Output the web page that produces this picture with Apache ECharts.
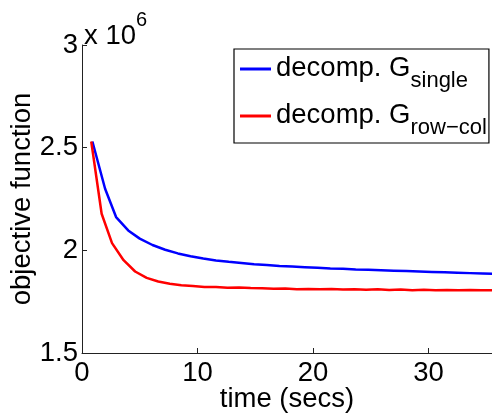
<!DOCTYPE html>
<html>
<head>
<meta charset="utf-8">
<script src="https://cdn.jsdelivr.net/npm/echarts@6/dist/echarts.min.js"></script>
<style>html,body{margin:0;padding:0;background:#fff}#c{width:492px;height:416px}</style>
</head>
<body>
<div id="c"></div>
<script>
// values in units of 10^6
const singleTime = [0.9,2.0,2.95,4.0,5.0,6.1,7.2,8.3,9.4,10.5,11.6,12.7,13.8,14.9,16.0,17.1,18.2,19.3,20.4,21.5,22.6,23.7,24.8,25.9,27.0,28.1,29.2,30.3,31.4,32.5,33.6,34.7,35.8];
const singleVal = [2.53,2.30,2.162,2.097,2.057,2.026,2.003,1.985,1.971,1.960,1.951,1.944,1.938,1.932,1.928,1.924,1.921,1.918,1.915,1.912,1.910,1.907,1.905,1.903,1.901,1.899,1.897,1.895,1.893,1.891,1.889,1.887,1.885];
const rowcolTime = [0.8,1.7,2.6,3.6,4.6,5.6,6.6,7.6,8.6,9.6,10.6,11.6,12.6,13.6,14.6,15.6,16.6,17.6,18.6,19.6,20.6,21.6,22.6,23.6,24.6,25.6,26.6,27.6,28.6,29.6,30.6,31.6,32.6,33.6,34.6,35.6];
const rowcolVal = [2.53,2.178,2.035,1.952,1.897,1.866,1.848,1.837,1.830,1.826,1.822,1.821,1.818,1.819,1.816,1.815,1.813,1.814,1.811,1.812,1.810,1.812,1.809,1.811,1.808,1.810,1.807,1.809,1.806,1.808,1.806,1.807,1.805,1.807,1.805,1.806];
const yTickVals = [1.5,2,2.5,3];
const yTicks = ['1.5','2','2.5','3'];
const xTickVals = [0,10,20,30];
const xTicks = ['0','10','20','30'];
const seriesNames = ['single','row\u2212col'];

const FONT = 'Liberation Sans';
const FS = 27.5;
const chart = echarts.init(document.getElementById('c'), null, {renderer:'canvas'});
const zip = (a,b)=>a.map((v,i)=>[v,b[i]]);
chart.setOption({
  animation:false,
  backgroundColor:'#fff',
  textStyle:{fontFamily:FONT,color:'#000'},
  title:{
    text:'{a|x 10}{b|6}', left:84, top:10, padding:0,
    textStyle:{fontWeight:'normal',rich:{
      a:{fontFamily:FONT,fontSize:FS,fontWeight:'normal',color:'#000',lineHeight:40,verticalAlign:'bottom'},
      b:{fontFamily:FONT,fontSize:20,fontWeight:'normal',color:'#000',lineHeight:20,verticalAlign:'top'}
    }}
  },
  grid:{left:82,right:0,top:45,bottom:63,containLabel:false,outerBoundsMode:'none'},
  legend:{
    orient:'vertical', left:234, top:49,
    backgroundColor:'#fff', borderColor:'#000', borderWidth:1.2, borderRadius:0,
    padding:[5,2,4,6], itemGap:9,
    itemWidth:31, itemHeight:3, icon:'rect',
    data:[{name:seriesNames[0]},{name:seriesNames[1]}],
    formatter: n => '{a|decomp. G}{b|'+n+'}',
    textStyle:{rich:{
      a:{fontFamily:FONT,fontSize:FS,color:'#000',lineHeight:30,verticalAlign:'top'},
      b:{fontFamily:FONT,fontSize:22,color:'#000',lineHeight:22,padding:[16,0,0,0],verticalAlign:'top'}
    }}
  },
  xAxis:{
    type:'value', min:0, max:35.5, interval:10,
    name:'time (secs)', nameLocation:'middle', nameGap:32, nameMoveOverlap:false,
    nameTextStyle:{fontFamily:FONT,fontSize:FS,color:'#000'},
    axisLine:{show:true,onZero:false,lineStyle:{color:'#222',width:1}},
    axisTick:{show:true,inside:true,length:5,lineStyle:{color:'#222'}},
    axisLabel:{fontFamily:FONT,fontSize:FS,color:'#000',margin:6,showMaxLabel:false,
      formatter:v=>{const i=xTickVals.indexOf(v);return i>=0?xTicks[i]:'';}},
    splitLine:{show:false}
  },
  yAxis:{
    type:'value', min:1.5, max:3, interval:0.5,
    name:'objective function', nameLocation:'middle', nameGap:46, nameMoveOverlap:false,
    nameTextStyle:{fontFamily:FONT,fontSize:FS,color:'#000'},
    axisLine:{show:true,onZero:false,lineStyle:{color:'#222',width:1}},
    axisTick:{show:true,inside:true,length:5,lineStyle:{color:'#222'}},
    axisLabel:{fontFamily:FONT,fontSize:FS,color:'#000',margin:4,
      formatter:v=>{const i=yTickVals.findIndex(t=>Math.abs(t-v)<1e-9);return i>=0?yTicks[i]:'';}},
    splitLine:{show:false}
  },
  series:[
    {name:seriesNames[0],type:'line',data:zip(singleTime,singleVal),showSymbol:false,
      lineStyle:{color:'#0000ff',width:2.5},itemStyle:{color:'#0000ff'},clip:true},
    {name:seriesNames[1],type:'line',data:zip(rowcolTime,rowcolVal),showSymbol:false,
      lineStyle:{color:'#ff0000',width:2.5},itemStyle:{color:'#ff0000'},clip:true}
  ]
});
</script>
</body>
</html>
